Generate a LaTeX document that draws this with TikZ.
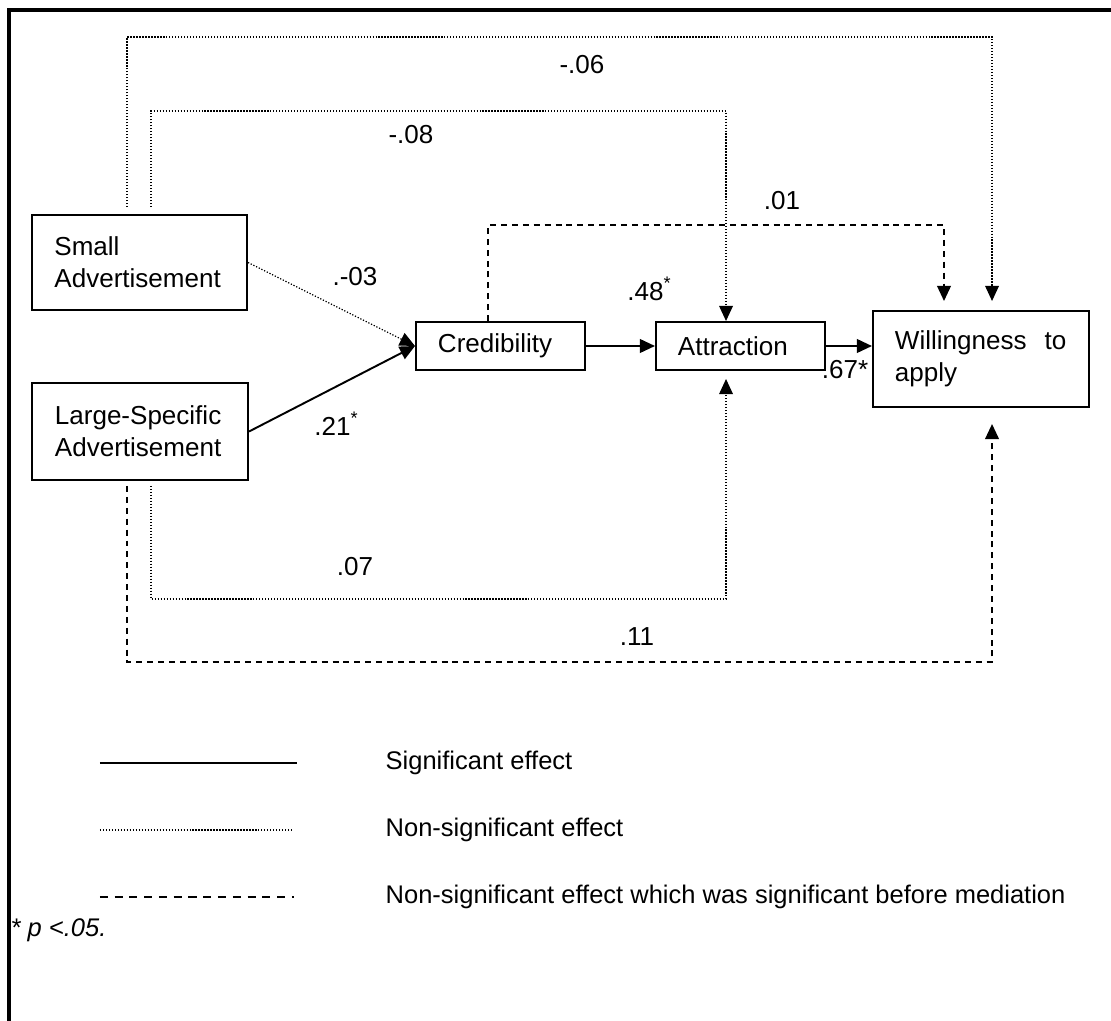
\documentclass[tikz,border=0pt]{standalone}
\usepackage{fontspec}
\setmainfont{Liberation Sans}
\usetikzlibrary{arrows.meta, positioning, calc}

\begin{document}
\begin{tikzpicture}[x=0.01cm, y=-0.01cm, font=\fontsize{7.4}{9.1}\selectfont]
      \tikzset{
        box/.style={
          draw=black, line width=0.55pt, inner sep=0pt, align=left
        },
        sig/.style={line width=0.55pt},
        nsig/.style={line width=0.35pt, dash pattern=on 0.35pt off 0.5pt},
        med/.style={line width=0.5pt, dash pattern=on 1.7pt off 1.4pt},
        tip/.style={-{Triangle[length=4.3pt, width=3.9pt]}},
        coef/.style={inner sep=0pt},
        legend/.style={inner sep=0pt, anchor=west, font=\fontsize{7.25}{9}\selectfont}
      }
      \useasboundingbox (0,0) rectangle (1111,1021);
      \draw[line width=1.2pt] (1111,10) -- (9,10) -- (9,1021);

      % boxes
      \node[box, minimum width=2.15cm, minimum height=0.95cm, text width=1.7cm] (small) at (139.5,262.5) {Small\\Advertisement};
      \node[box, minimum width=2.16cm, minimum height=0.97cm, text width=1.7cm] (large) at (140,431.5) {Large-Specific\\Advertisement};
      \node[box, minimum width=1.69cm, minimum height=0.48cm, text width=1.25cm] (cred) at (500.5,346) {Credibility};
      \node[box, minimum width=1.69cm, minimum height=0.48cm, text width=1.25cm] (attr) at (740.5,346) {Attraction};
      \node[box, minimum width=2.16cm, minimum height=0.96cm, text width=1.72cm] (will) at (981,359) {Willingness\hspace{0.7em}to\\apply};

      % paths
      \draw[nsig, tip] (small.east) -- (cred.west);
      \draw[sig, tip] (large.east) -- (cred.west);
      \draw[sig, tip] (cred.east) -- (attr.west);
      \draw[sig, tip] (attr.east) -- (attr.east -| will.west);
      \draw[nsig, tip] ([xshift=0.96cm, yshift=0.07cm]small.north west) -- ++(0,-170)
        -| ([xshift=1.2cm, yshift=0.09cm]will.north west);
      \draw[nsig, tip] ([xshift=1.2cm, yshift=0.07cm]small.north west) -- ++(0,-96)
        -| ([xshift=0.71cm]attr.north west);
      \draw[med, tip] ([xshift=0.73cm]cred.north west) -- ++(0,-96)
        -| ([xshift=0.72cm, yshift=0.09cm]will.north west);
      \draw[nsig, tip] ([xshift=1.2cm, yshift=-0.05cm]large.south west) -- ++(0,113)
        -| ([xshift=0.71cm, yshift=-0.08cm]attr.south west);
      \draw[med, tip] ([xshift=0.96cm, yshift=-0.05cm]large.south west) -- ++(0,176)
        -| ([xshift=1.2cm, yshift=-0.16cm]will.south west);

      % coefficients
      \node[coef] (c06) at (582,65) {-.06};
      \node[coef] (c08) at (411,135) {-.08};
      \node[coef] (c01) at (782,201) {.01};
      \node[coef] (c03) at (355,277) {.-03};
      \node[coef] (c48) at (650,289) {.48\textsuperscript{*}};
      \node[coef] (c21) at (337,424) {.21\textsuperscript{*}};
      \node[coef] (c67) at (845,370) {.67*};
      \node[coef] (c07) at (355,567) {.07};
      \node[coef] (c11) at (637,637) {.11};

      % legend
      \node[legend] (lsig) at (385,763) {Significant effect};
      \node[legend] (lnsig) at (385,830) {Non-significant effect};
      \node[legend] (lmed) at (385,897) {Non-significant effect which was significant before mediation};
      \draw[sig] ([xshift=-2.85cm]lsig.west) -- ([xshift=-0.88cm]lsig.west);
      \draw[nsig] ([xshift=-2.85cm]lnsig.west) -- ([xshift=-0.91cm]lnsig.west);
      \draw[line width=0.5pt, dash pattern=on 2.3pt off 1.9pt] ([xshift=-2.85cm]lmed.west) -- ([xshift=-0.91cm]lmed.west);
      \node[legend, font=\fontsize{7.25}{9}\selectfont\itshape] (pval) at (10,930) {* p <.05.};
\end{tikzpicture}
\end{document}
